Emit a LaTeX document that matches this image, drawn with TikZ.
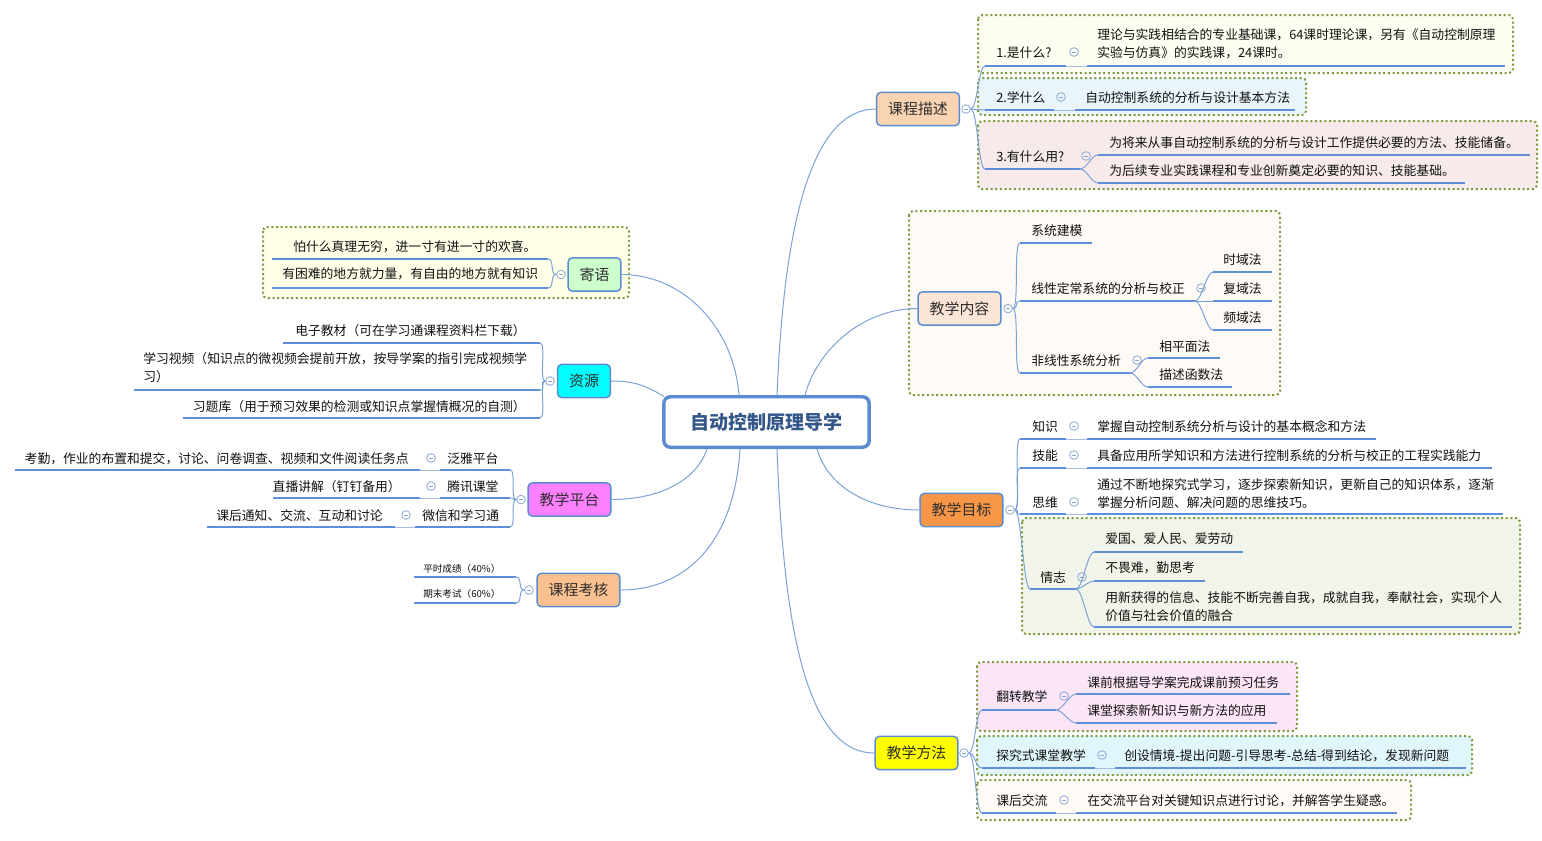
\documentclass[tikz,border=0pt]{standalone}
\usepackage{fontspec}
\setmainfont{Noto Sans CJK SC}
\definecolor{txtc}{HTML}{111111}
\definecolor{bdc}{HTML}{5B8BD0}
\definecolor{ulc}{HTML}{5E8FD8}
\definecolor{cnc}{HTML}{7BA2D8}
\definecolor{lkc}{HTML}{A5BFE3}
\definecolor{mnc}{HTML}{8BA9D3}
\definecolor{dotc}{HTML}{7D9B3E}
\definecolor{ctc}{HTML}{34578A}
\definecolor{lonet}{HTML}{2E2E2E}
\definecolor{fkcms}{HTML}{F9D3B2}
\definecolor{fjxnr}{HTML}{FBE5D6}
\definecolor{fjxmb}{HTML}{F79646}
\definecolor{fjxff}{HTML}{FFFF00}
\definecolor{fjy}{HTML}{CCFFCC}
\definecolor{fzy}{HTML}{00FFFF}
\definecolor{fjxpt}{HTML}{FF80FF}
\definecolor{fkckh}{HTML}{FAC090}
\definecolor{bxa}{HTML}{FEFDF1}
\definecolor{bxb}{HTML}{EAF5FB}
\definecolor{bxc}{HTML}{F6EAEA}
\definecolor{bxd}{HTML}{FEFAF6}
\definecolor{bxe}{HTML}{F1F5E9}
\definecolor{bxf}{HTML}{FCE5F7}
\definecolor{bxg}{HTML}{E0F6FB}
\definecolor{bxh}{HTML}{FFFFE8}
\newcommand\mkul[4]{\coordinate (#1-a) at (#2,#4);\coordinate (#1-b) at (#3,#4);\draw[ul] (#1-a) -- (#1-b);}
\begin{document}
\begin{tikzpicture}[x=0.75pt,y=-0.75pt,
  tx/.style={font=\fontsize{9.6pt}{13.5pt}\selectfont, text=txtc, inner sep=0pt, text height=0.88em, text depth=0.12em},
  txm/.style={font=\fontsize{9.6pt}{13.5pt}\selectfont, text=txtc, inner sep=0pt, align=left},
  txs/.style={font=\fontsize{7.2pt}{9pt}\selectfont, text=txtc, inner sep=0pt, text height=0.88em, text depth=0.12em},
  ul/.style={draw=ulc, line width=1.8pt},
  cn/.style={draw=cnc, line width=0.75pt},
  lk/.style={draw=lkc, line width=0.75pt},
  bR/.style={out=0, in=180, distance=5pt},
  bL/.style={out=180, in=0, distance=5pt},
  dbox/.style={draw=dotc, line width=1.5pt, dash pattern=on 1.5pt off 2pt, rounded corners=3pt},
  mn/.style={circle, draw=mnc, line width=0.6pt, minimum size=6.5pt, inner sep=0pt,
    path picture={\draw[mnc, line width=0.6pt] ([xshift=-1.7pt]path picture bounding box.center) -- ([xshift=1.7pt]path picture bounding box.center);}},
  lone/.style={draw=bdc, line width=1.1pt, rounded corners=3pt, minimum height=24.8pt, inner xsep=8.6pt, inner ysep=0pt,
    font=\fontsize{11.2pt}{13pt}\selectfont, text=lonet},
  ctrn/.style={draw=bdc, line width=2.6pt, rounded corners=5pt, fill=white, minimum width=154pt, minimum height=37.9pt,
    font=\fontsize{14.3pt}{16pt}\selectfont\bfseries, text=ctc}
]
\fill[white] (0,0) rectangle (1542,840);
\useasboundingbox (0,0) rectangle (1542,840);

% ---------- dotted group boxes ----------
\draw[dbox, fill=bxa] (978,15) rectangle (1513,73);
\draw[dbox, fill=bxb] (978,78) rectangle (1306,115);
\draw[dbox, fill=bxc] (978,121) rectangle (1537,189);
\draw[dbox, fill=bxd] (909,211) rectangle (1280,395);
\draw[dbox, fill=bxe] (1022,518) rectangle (1520,634);
\draw[dbox, fill=bxf] (977,662) rectangle (1297,731);
\draw[dbox, fill=bxg] (977,736) rectangle (1472,775);
\draw[dbox, fill=bxd] (977,780) rectangle (1411,820);
\draw[dbox, fill=bxh] (263,227) rectangle (629,298);

% ---------- central and main topics ----------
\node[ctrn] (c) at (766.5,422) {自动控制原理导学};
\node[lone, fill=fkcms] (kcms) at (918,109) {课程描述};
\node[lone, fill=fjxnr] (jxnr) at (959.5,308.5) {教学内容};
\node[lone, fill=fjxmb] (jxmb) at (961.5,510) {教学目标};
\node[lone, fill=fjxff] (jxff) at (916.5,753) {教学方法};
\node[lone, fill=fjy] (jy) at (594.5,274.5) {寄语};
\node[lone, fill=fzy] (zy) at (584,381) {资源};
\node[lone, fill=fjxpt] (jxpt) at (569.5,499.5) {教学平台};
\node[lone, fill=fkckh] (kckh) at (578.5,590) {课程考核};

\node[mn] (mkcms) at (966,109) {};
\node[mn] (mjxnr) at (1008,308.5) {};
\node[mn] (mjxmb) at (1010,510) {};
\node[mn] (mjxff) at (964,753) {};
\node[mn] (mjy) at (561,274.5) {};
\node[mn] (mzy) at (550,381) {};
\node[mn] (mjxpt) at (521,499.5) {};
\node[mn] (mkckh) at (529,590) {};

% central connectors
\draw[cn] ([xshift=7.9pt]c.north) .. controls +(6,-150) and +(-70,0) .. (kcms.west);
\draw[cn] ([xshift=28.9pt]c.north) .. controls +(12,-45) and +(-55,0) .. (jxnr.west);
\draw[cn] ([xshift=37.9pt]c.south) .. controls +(10,35) and +(-55,0) .. (jxmb.west);
\draw[cn] ([xshift=7.9pt]c.south) .. controls +(6,170) and +(-70,0) .. (jxff.west);
\draw[cn] ([xshift=-20.6pt]c.north) .. controls +(-6,-70) and +(60,0) .. (jy.east);
\draw[cn] ([xshift=1.5pt,yshift=-1pt]c.north west) .. controls +(-18,-10) and +(25,0) .. (zy.east);
\draw[cn] ([xshift=-44.6pt]c.south) .. controls +(-10,30) and +(50,0) .. (jxpt.east);
\draw[cn] ([xshift=-19.9pt]c.south) .. controls +(-6,100) and +(60,0) .. (kckh.east);

% ---------- 课程描述 ----------
\node[tx, anchor=west] (k1) at (996,52) {1.是什么?};
\mkul{k1}{985}{1066}{66}
\node[mn] (mk1) at (1074,52) {};
\node[txm, anchor=north west] (k1l) at (1097,28) {理论与实践相结合的专业基础课，64课时理论课，另有《自动控制原理\\实验与仿真》的实践课，24课时。};
\mkul{k1l}{1087}{1505}{66}
\draw[lk] (k1-b) -- (k1l-a);

\node[tx, anchor=west] (k2) at (996,97) {2.学什么};
\mkul{k2}{985}{1054}{110}
\node[mn] (mk2) at (1061,97) {};
\node[tx, anchor=west] (k2l) at (1085,97) {自动控制系统的分析与设计基本方法};
\mkul{k2l}{1075}{1295}{110}
\draw[lk] (k2-b) -- (k2l-a);

\node[tx, anchor=west] (k3) at (996,156) {3.有什么用?};
\mkul{k3}{985}{1080}{169}
\node[mn] (mk3) at (1086,156) {};
\node[tx, anchor=west] (k3a) at (1109,142) {为将来从事自动控制系统的分析与设计工作提供必要的方法、技能储备。};
\mkul{k3a}{1098}{1530}{155}
\node[tx, anchor=west] (k3b) at (1109,170) {为后续专业实践课程和专业创新奠定必要的知识、技能基础。};
\mkul{k3b}{1098}{1465}{183}
\draw[cn] (k3-b) to[bR] (k3a-a);
\draw[cn] (k3-b) to[bR] (k3b-a);

\draw[cn] (mkcms.east) to[bR] (k1-a);
\draw[cn] (mkcms.east) to[bR] (k2-a);
\draw[cn] (mkcms.east) to[bR] (k3-a);

% ---------- 教学内容 ----------
\node[tx, anchor=west] (n1) at (1031,230) {系统建模};
\mkul{n1}{1020}{1092}{243}
\node[tx, anchor=west] (n2) at (1031,288) {线性定常系统的分析与校正};
\mkul{n2}{1020}{1195}{301}
\node[mn] (mn2) at (1201,288) {};
\node[tx, anchor=west] (n21) at (1223,259) {时域法};
\mkul{n21}{1213}{1272}{272}
\node[tx, anchor=west] (n22) at (1223,288) {复域法};
\mkul{n22}{1213}{1272}{301}
\node[tx, anchor=west] (n23) at (1223,317) {频域法};
\mkul{n23}{1213}{1272}{330}
\draw[cn] (n2-b) to[bR] (n21-a);
\draw[cn] (n2-b) -- (n22-a);
\draw[cn] (n2-b) to[bR] (n23-a);
\node[tx, anchor=west] (n3) at (1031,360) {非线性系统分析};
\mkul{n3}{1020}{1130}{373}
\node[mn] (mn3) at (1137,360) {};
\node[tx, anchor=west] (n31) at (1159,346) {相平面法};
\mkul{n31}{1148}{1220}{358}
\node[tx, anchor=west] (n32) at (1159,374) {描述函数法};
\mkul{n32}{1148}{1232}{387}
\draw[cn] (n3-b) to[bR] (n31-a);
\draw[cn] (n3-b) to[bR] (n32-a);
\draw[cn] (mjxnr.east) to[bR] (n1-a);
\draw[cn] (mjxnr.east) to[bR] (n2-a);
\draw[cn] (mjxnr.east) to[bR] (n3-a);

% ---------- 教学目标 ----------
\node[tx, anchor=west] (g1) at (1032,426) {知识};
\mkul{g1}{1020}{1066}{439}
\node[mn] (mg1) at (1074,426) {};
\node[tx, anchor=west] (g1l) at (1097,426) {掌握自动控制系统分析与设计的基本概念和方法};
\mkul{g1l}{1087}{1376}{439}
\draw[lk] (g1-b) -- (g1l-a);
\node[tx, anchor=west] (g2) at (1032,455) {技能};
\mkul{g2}{1020}{1066}{468}
\node[mn] (mg2) at (1074,455) {};
\node[tx, anchor=west] (g2l) at (1097,455) {具备应用所学知识和方法进行控制系统的分析与校正的工程实践能力};
\mkul{g2l}{1087}{1492}{468}
\draw[lk] (g2-b) -- (g2l-a);
\node[tx, anchor=west] (g3) at (1032,502) {思维};
\mkul{g3}{1020}{1066}{514}
\node[mn] (mg3) at (1074,502) {};
\node[txm, anchor=north west] (g3l) at (1097,478) {通过不断地探究式学习，逐步探索新知识，更新自己的知识体系，逐渐\\掌握分析问题、解决问题的思维技巧。};
\mkul{g3l}{1087}{1503}{514}
\draw[lk] (g3-b) -- (g3l-a);
\node[tx, anchor=west] (g4) at (1040,577) {情志};
\mkul{g4}{1030}{1076}{589}
\node[mn] (mg4) at (1082,577) {};
\node[tx, anchor=west] (g41) at (1105,538) {爱国、爱人民、爱劳动};
\mkul{g41}{1094}{1243}{552}
\node[tx, anchor=west] (g42) at (1105,567) {不畏难，勤思考};
\mkul{g42}{1094}{1205}{581}
\node[txm, anchor=north west] (g43) at (1105,591) {用新获得的信息、技能不断完善自我，成就自我，奉献社会，实现个人\\价值与社会价值的融合};
\mkul{g43}{1094}{1512}{627}
\draw[cn] (g4-b) to[bR] (g41-a);
\draw[cn] (g4-b) to[bR] (g42-a);
\draw[cn] (g4-b) to[bR] (g43-a);
\draw[cn] (mjxmb.east) to[bR] (g1-a);
\draw[cn] (mjxmb.east) to[bR] (g2-a);
\draw[cn] (mjxmb.east) to[bR] (g3-a);
\draw[cn] (mjxmb.east) to[bR] (g4-a);

% ---------- 教学方法 ----------
\node[tx, anchor=west] (f1) at (996,696) {翻转教学};
\mkul{f1}{982}{1056}{710}
\node[mn] (mf1) at (1064,696) {};
\node[tx, anchor=west] (f11) at (1087,682) {课前根据导学案完成课前预习任务};
\mkul{f11}{1076}{1290}{694}
\node[tx, anchor=west] (f12) at (1087,710) {课堂探索新知识与新方法的应用};
\mkul{f12}{1076}{1277}{723}
\draw[cn] (f1-b) to[bR] (f11-a);
\draw[cn] (f1-b) to[bR] (f12-a);
\node[tx, anchor=west] (f2) at (996,755) {探究式课堂教学};
\mkul{f2}{982}{1095}{768}
\node[mn] (mf2) at (1102,755) {};
\node[tx, anchor=west] (f2l) at (1124,755) {创设情境-提出问题-引导思考-总结-得到结论，发现新问题};
\mkul{f2l}{1115}{1466}{768}
\draw[lk] (f2-b) -- (f2l-a);
\node[tx, anchor=west] (f3) at (996,800) {课后交流};
\mkul{f3}{982}{1056}{813}
\node[mn] (mf3) at (1064,800) {};
\node[tx, anchor=west] (f3l) at (1087,800) {在交流平台对关键知识点进行讨论，并解答学生疑惑。};
\mkul{f3l}{1076}{1397}{813}
\draw[lk] (f3-b) -- (f3l-a);
\draw[cn] (mjxff.east) to[bR] (f1-a);
\draw[cn] (mjxff.east) to[bR] (f2-a);
\draw[cn] (mjxff.east) to[bR] (f3-a);

% ---------- 寄语 ----------
\node[tx, anchor=west] (j1) at (293,246) {怕什么真理无穷，进一寸有进一寸的欢喜。};
\mkul{j1}{272}{548}{259}
\node[tx, anchor=west] (j2) at (282,273) {有困难的地方就力量，有自由的地方就有知识};
\mkul{j2}{272}{548}{288}
\draw[cn] (mjy.west) to[bL] (j1-b);
\draw[cn] (mjy.west) to[bL] (j2-b);

% ---------- 资源 ----------
\node[tx, anchor=east] (z1) at (526,330) {电子教材（可在学习通课程资料栏下载）};
\mkul{z1}{283}{540}{343}
\node[txm, anchor=north west] (z2) at (143,352) {学习视频（知识点的微视频会提前开放，按导学案的指引完成视频学\\习）};
\mkul{z2}{134}{540}{390}
\node[tx, anchor=east] (z3) at (526,406) {习题库（用于预习效果的检测或知识点掌握情概况的自测）};
\mkul{z3}{183}{540}{418}
\draw[cn] (mzy.west) to[bL] (z1-b);
\draw[cn] (mzy.west) to[bL] (z2-b);
\draw[cn] (mzy.west) to[bL] (z3-b);

% ---------- 教学平台 ----------
\node[tx, anchor=west] (p1) at (447,458) {泛雅平台};
\mkul{p1}{440}{510}{470}
\node[mn] (mp1) at (431,458) {};
\node[tx, anchor=east] (p1l) at (409,458) {考勤，作业的布置和提交，讨论、问卷调查、视频和文件阅读任务点};
\mkul{p1l}{15}{420}{470}
\draw[lk] (p1-a) -- (p1l-b);
\node[tx, anchor=west] (p2) at (447,486) {腾讯课堂};
\mkul{p2}{440}{510}{498}
\node[mn] (mp2) at (431,486) {};
\node[tx, anchor=east] (p2l) at (401,486) {直播讲解（钉钉备用）};
\mkul{p2l}{273}{420}{498}
\draw[lk] (p2-a) -- (p2l-b);
\node[tx, anchor=west] (p3) at (422,515) {微信和学习通};
\mkul{p3}{415}{510}{527}
\node[mn] (mp3) at (406,515) {};
\node[tx, anchor=east] (p3l) at (383,515) {课后通知、交流、互动和讨论};
\mkul{p3l}{207}{395}{527}
\draw[lk] (p3-a) -- (p3l-b);
\draw[cn] (mjxpt.west) to[bL] (p1-b);
\draw[cn] (mjxpt.west) to[bL] (p2-b);
\draw[cn] (mjxpt.west) to[bL] (p3-b);

% ---------- 课程考核 ----------
\node[txs, anchor=west] (h1) at (423,567) {平时成绩（40\%）};
\mkul{h1}{414}{516}{577}
\node[txs, anchor=west] (h2) at (423,592) {期末考试（60\%）};
\mkul{h2}{414}{516}{603}
\draw[cn] (mkckh.west) to[bL] (h1-b);
\draw[cn] (mkckh.west) to[bL] (h2-b);
\end{tikzpicture}
\end{document}
